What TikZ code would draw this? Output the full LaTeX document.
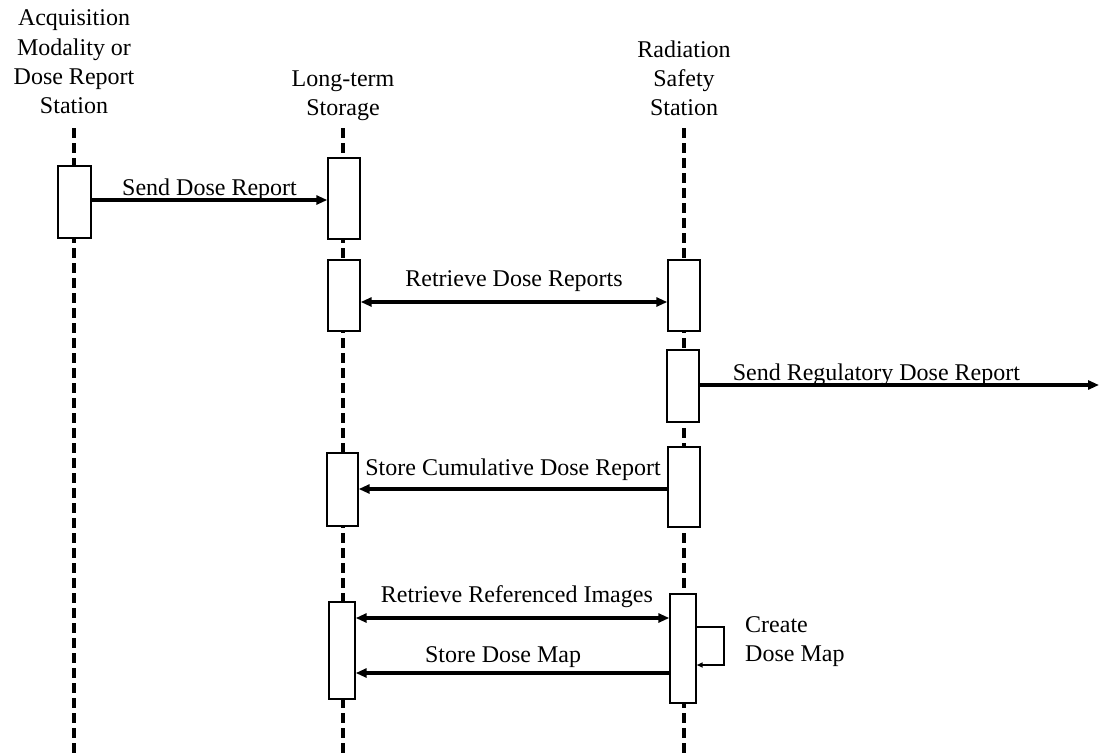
\documentclass[tikz,border=0pt]{standalone}
\usepackage{fontspec}
\setmainfont{Liberation Serif}
\usetikzlibrary{arrows.meta,calc}
\begin{document}
\begin{tikzpicture}[x=1pt,y=-1pt,
  every node/.style={font=\fontsize{24}{29.3}\selectfont},
  hdr/.style={align=center,inner sep=0pt,anchor=south,text depth=0pt},
  life/.style={line width=3.2pt,dash pattern=on 10pt off 5pt},
  actbox/.style={draw,fill=white,line width=1.4pt,inner sep=0pt,minimum width=32pt},
  msg/.style={line width=3.2pt,-{Triangle[length=11pt,width=9pt]}},
  msgb/.style={line width=3.2pt,{Triangle[length=11pt,width=9pt]}-{Triangle[length=11pt,width=9pt]}},
  lbl/.style={anchor=base,inner sep=0pt},
  loopln/.style={line width=2.4pt,-{Triangle[length=6pt,width=5pt]}}
]
\useasboundingbox (0,0) rectangle (1099,755);
% lifeline tops and bottom
\coordinate (la) at (74,128);
\coordinate (lb) at (343,128);
\coordinate (lc) at (684,128);
\coordinate (bot) at (0,755);
\coordinate (outer) at (1099,385);
% headers
\node[hdr] (hA) at (74,114) {Acquisition\\Modality or\\Dose Report\\Station};
\node[hdr] (hB) at (343,116) {Long-term\\Storage};
\node[hdr] (hC) at (684,116) {Radiation\\Safety\\Station};
% lifelines
\draw[life] (la) -- (la |- bot);
\draw[life] (lb) -- (lb |- bot);
\draw[life] (lc) -- (lc |- bot);
% activation boxes
\node[actbox,minimum width=33pt,minimum height=72pt] (a1) at (74.5,202) {};
\node[actbox,minimum height=81pt] (b1) at (344,198.5) {};
\node[actbox,minimum height=71pt] (b2) at (344,295.5) {};
\node[actbox,minimum height=71pt] (c1) at (684,295.5) {};
\node[actbox,minimum height=72pt] (c2) at (683,386) {};
\node[actbox,minimum height=80pt] (c3) at (684,487) {};
\node[actbox,minimum width=31pt,minimum height=73pt] (b3) at (342.5,489.5) {};
\node[actbox,minimum width=26pt,minimum height=97pt] (b4) at (342,650.5) {};
\node[actbox,minimum width=26pt,minimum height=109pt] (c4) at (683,648.5) {};
% messages
\draw[msg] ([yshift=2pt]a1.east) -- ([yshift=2pt]a1.east -| b1.west)
  node[lbl,pos=0.5,yshift=5pt] {Send Dose Report};
\draw[msgb] ([yshift=-6.5pt]b2.east) -- ([yshift=-6.5pt]b2.east -| c1.west)
  node[lbl,pos=0.5,yshift=16pt] {Retrieve Dose Reports};
\draw[msg] ([yshift=1pt]c2.east) -- (outer)
  node[lbl,pos=0.4425,yshift=5pt] {Send Regulatory Dose Report};
\draw[msg] ([yshift=-2pt]c3.west) -- ([yshift=-2pt]c3.west -| b3.east)
  node[lbl,pos=0.5,yshift=14pt] {Store Cumulative Dose Report};
\draw[msgb] ([yshift=32.5pt]b4.east) -- ([yshift=32.5pt]b4.east -| c4.west)
  node[lbl,pos=0.514,yshift=16pt] {Retrieve Referenced Images};
\draw[msg] ([yshift=-24.5pt]c4.west) -- ([yshift=-24.5pt]c4.west -| b4.east)
  node[lbl,pos=0.53,yshift=11pt] {Store Dose Map};
% self call
\draw[loopln] ([yshift=21.5pt]c4.east) -| ([xshift=27pt,yshift=-16.5pt]c4.east) -- ([yshift=-16.5pt]c4.east);
\node[align=left,anchor=south west,inner sep=0pt,text depth=0pt] (cdm) at (745,662) {Create\\Dose Map};
\end{tikzpicture}
\end{document}
